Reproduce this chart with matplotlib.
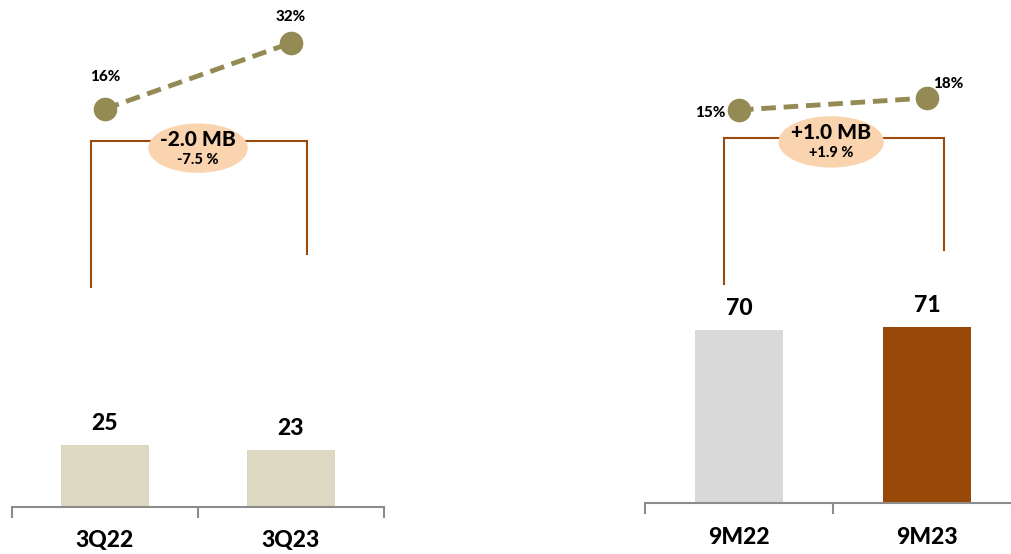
import matplotlib.pyplot as plt
from matplotlib.patches import Ellipse

plt.rcParams['font.family'] = ['Lato', 'DejaVu Sans']
plt.rcParams['font.weight'] = 900

# quarter panel
q_labels = ['3Q22', '3Q23']
q_values = [25, 23]
q_margin = [16, 32]
q_delta = '-2.0 MB'
q_delta_pct = '-7.5 %'

# nine-month panel
m_labels = ['9M22', '9M23']
m_values = [70, 71]
m_margin = [15, 18]
m_delta = '+1.0 MB'
m_delta_pct = '+1.9 %'

W, H = 1011, 554
SCALE = 2.475  # pixels per unit on the bar axes
fig = plt.figure(figsize=(W / 100, H / 100), dpi=100)

line_col = '#948A54'
brk_col = '#9A4A0C'
oval_col = '#FAD3AF'
axis_col = '#8C8C8C'


def px_axes(x0, x1, y_top, y_base):
    return fig.add_axes([x0 / W, 1 - y_base / H, (x1 - x0) / W, (y_base - y_top) / H])


def panel(x0, x1, base, labels, values, colors, margin, pct_lim,
          brk, oval, delta, delta_pct, pct_offsets, label_y):
    ax = px_axes(x0, x1, 0, base)
    ax.set_xlim(-0.5, 1.5)
    ax.set_ylim(0, base / SCALE)
    ax.bar(range(2), values, width=0.47, color=colors, zorder=2)
    for i, v in enumerate(values):
        ax.annotate(str(v), (i, v), xytext=(0, 8), textcoords='offset points',
                    ha='center', va='bottom', fontsize=16.5)
    for s in ['top', 'right', 'left']:
        ax.spines[s].set_visible(False)
    ax.spines['bottom'].set_color(axis_col)
    ax.spines['bottom'].set_linewidth(1.5)
    ax.set_yticks([])
    ax.set_xticks([-0.5, 0.5, 1.5])
    ax.set_xticklabels([])
    ax.tick_params(axis='x', length=8, width=1.5, color=axis_col, direction='out')
    for i, lab in enumerate(labels):
        ax.text(i, -(label_y - base) / SCALE, lab, ha='center', va='center',
                fontsize=16.5)

    # bracket around the change
    bx0, bx1, by, bl, br = brk
    ax.plot([bx0, bx0, bx1, bx1], [bl, by, by, br], color=brk_col, lw=1.5,
            zorder=3, solid_joinstyle='miter')
    ox, oy, ow, oh = oval
    ax.add_patch(Ellipse((ox, oy), ow, oh, color=oval_col, zorder=4))
    ax.text(ox, oy + 3.6, delta, ha='center', va='center', fontsize=15, zorder=5)
    ax.text(ox, oy - 4.6, delta_pct, ha='center', va='center', fontsize=10.5, zorder=5)

    # margin line on its own scale
    ax2 = ax.twinx()
    ax2.set_ylim(*pct_lim)
    ax2.axis('off')
    ax2.plot(range(2), margin, color=line_col, lw=3.5, ls=(0, (3, 1.6)),
             marker='o', ms=16, zorder=3)
    for i, m in enumerate(margin):
        dx, dy = pct_offsets[i]
        ax2.annotate(f'{m}%', (i, m), xytext=(dx, dy), textcoords='offset points',
                     ha='center', va='center', fontsize=11)
    return ax


panel(12, 384, 507, q_labels, q_values, ['#DDD8C2', '#DDD8C2'], q_margin,
      (-80.5, 42.4), (-0.075, 1.086, 148, 88.7, 102.4),
      (0.5, 145, 0.527, 19.4), q_delta, q_delta_pct,
      [(0, 23), (0, 19)], 540)

panel(645, 1021, 503, m_labels, m_values, ['#D9D9D9', '#984807'], m_margin,
      (-83.25, 42.5), (-0.08, 1.09, 147.5, 88.5, 102.2),
      (0.49, 145.9, 0.553, 20.2), m_delta, m_delta_pct,
      [(-21, -2), (15, 10)], 538)

fig.savefig('out.png', dpi=100)
